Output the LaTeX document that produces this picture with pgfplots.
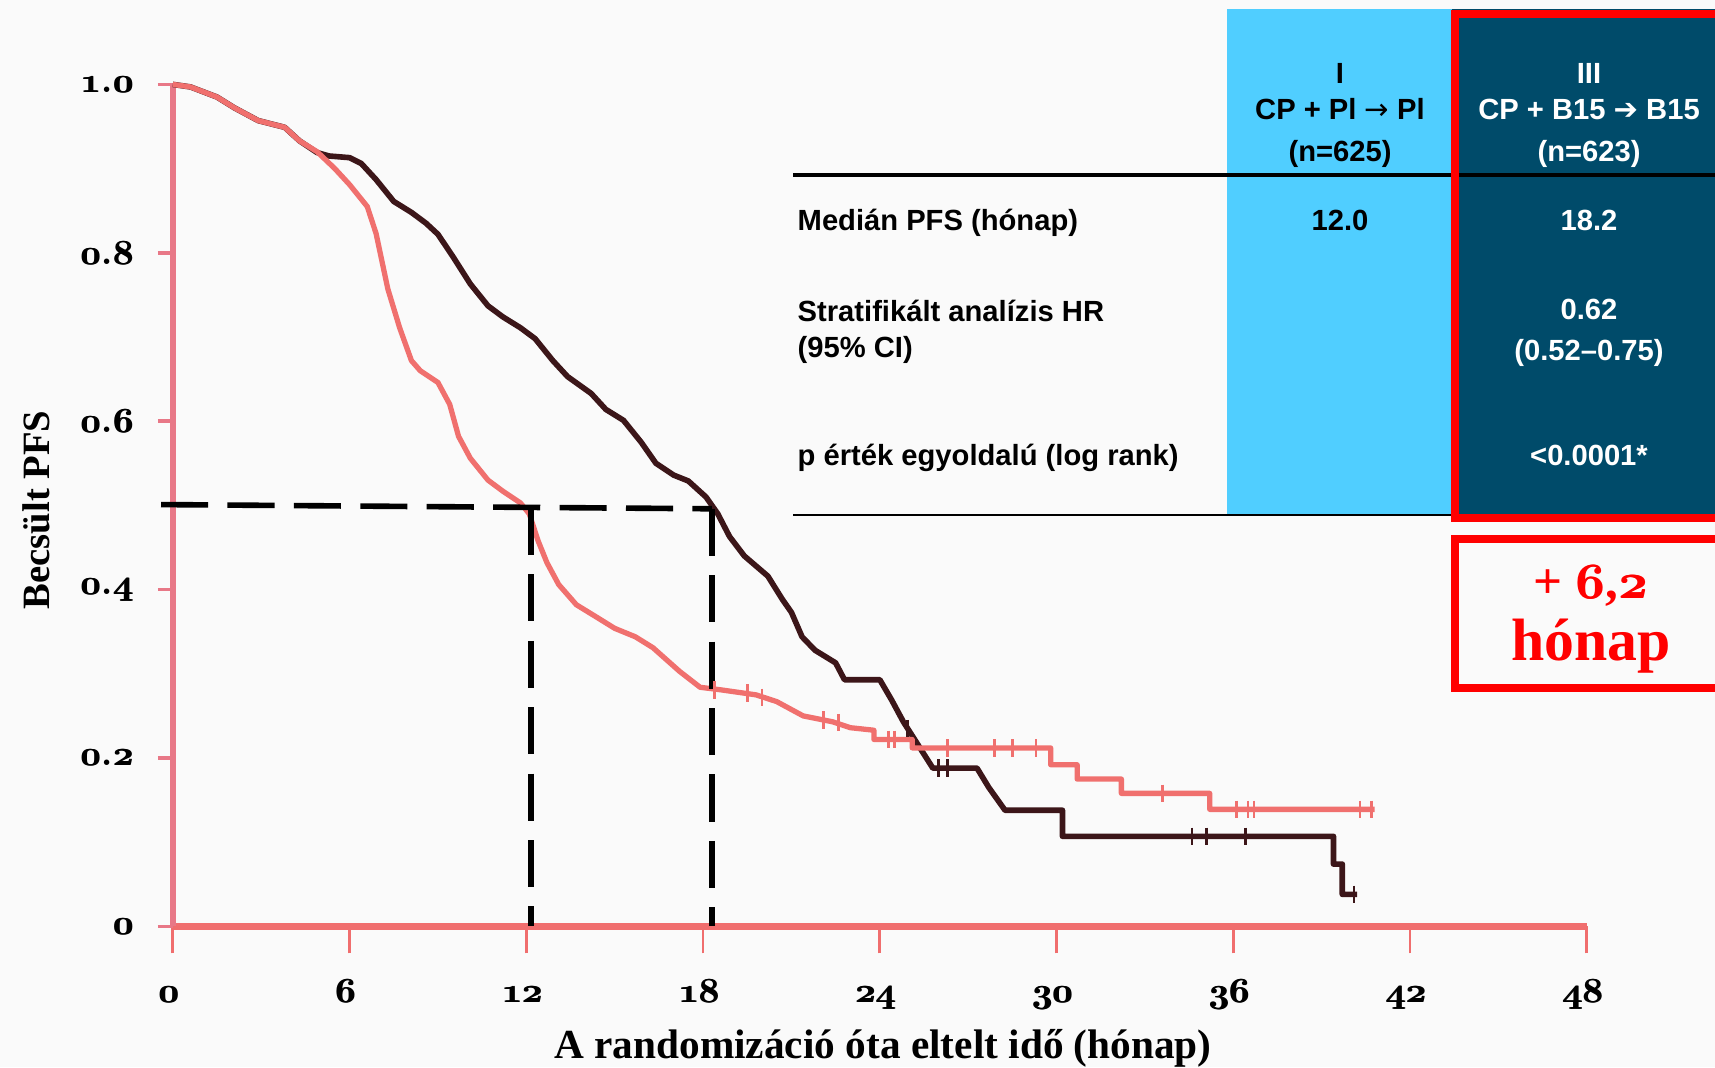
\documentclass[border=0pt]{standalone}
\usepackage{pgfplots}
\pgfplotsset{compat=1.18}
\usepackage{fontspec}
\newfontfamily\arial{Liberation Sans}
\newfontfamily\tnr{Liberation Serif}
\newfontfamily\djv{DejaVu Sans}
% old-style bold figures from the Computer Modern math italic, smeared a little to look heavier
\newcommand\osn[1]{{\usefont{OML}{cmm}{b}{it}\rlap{#1}\kern0.35pt#1}}

\definecolor{bgc}{RGB}{250,250,250}
\definecolor{ctrl}{RGB}{240,112,110}
\definecolor{expt}{RGB}{60,22,25}
\definecolor{yax}{RGB}{232,120,135}
\definecolor{xax}{RGB}{240,110,110}
\definecolor{lblue}{RGB}{80,206,255}
\definecolor{dblue}{RGB}{0,75,106}
\definecolor{hot}{RGB}{255,0,0}

\begin{document}
\begin{tikzpicture}
\clip (0,0) rectangle (17.15,10.67);
\fill[bgc] (0,0) rectangle (17.15,10.67);

% table background
\fill[lblue] (12.27,5.51) rectangle (14.52,10.58);
\fill[dblue] (14.52,5.51) rectangle (17.2,10.58);
\draw[black, line width=1.4pt] (7.93,8.92) -- (17.2,8.92);
\draw[black, line width=0.7pt] (7.93,5.52) -- (14.52,5.52);
\draw[hot, line width=2.3pt] (14.55,5.49) rectangle (17.4,10.53);
\draw[hot, line width=2.3pt] (14.55,3.79) rectangle (17.4,5.28);

\begin{axis}[
  at={(1.728cm,1.406cm)}, anchor=south west,
  scale only axis, width=14.14cm, height=8.42cm,
  xmin=0, xmax=48, ymin=0, ymax=1,
  axis x line*=bottom, axis y line*=left,
  clip=false,
  tick align=outside,
  xtick={0,6,12,18,24,30,36,42,48},
  ytick={0,0.2,0.4,0.6,0.8,1},
  xticklabels={\osn{0},\osn{6},\osn{12},\osn{18},\osn{24},\osn{30},\osn{36},\osn{42},\osn{48}},
  yticklabels={\osn{0},\osn{0}.\osn{2},\osn{0}.\osn{4},\osn{0}.\osn{6},\osn{0}.\osn{8},\osn{1}.\osn{0}},
  x axis line style={xax, line width=2.2pt},
  y axis line style={yax, line width=1.6pt},
  xtick style={xax, line width=0.8pt, /pgfplots/major tick length=0.27cm},
  ytick style={yax, line width=1pt, /pgfplots/major tick length=0.15cm},
  xticklabel style={font=\bfseries\fontsize{10}{12}\selectfont, anchor=base, inner sep=0pt, yshift=-0.61cm, xshift=-0.04cm},
  yticklabel style={font=\bfseries\fontsize{10}{12}\selectfont, anchor=east, inner sep=0pt, xshift=-0.23cm},
]
% CP + B15 -> B15
\addplot[expt, line width=1.6pt, line join=round] coordinates {
  (0,1.0) (0.6,0.997) (1.5,0.985) (2.1,0.972) (2.9,0.957) (3.8,0.949)
  (4.3,0.933) (4.9,0.919) (5.3,0.915) (6.0,0.913) (6.4,0.906) (6.9,0.887)
  (7.5,0.861) (8.1,0.848) (8.6,0.835) (9.0,0.822) (9.5,0.796) (10.1,0.763)
  (10.7,0.737) (11.2,0.724) (11.8,0.711) (12.3,0.698) (12.9,0.672) (13.4,0.653)
  (14.2,0.633) (14.7,0.614) (15.3,0.601) (15.9,0.575) (16.4,0.55) (17.0,0.536)
  (17.5,0.529) (18.1,0.51) (18.5,0.49) (18.9,0.463) (19.4,0.44) (20.2,0.416)
  (20.7,0.388) (21.0,0.373) (21.36,0.344) (21.8,0.328) (22.5,0.313) (22.8,0.293)
  (24.0,0.293) (24.4,0.269) (24.8,0.243) (25.4,0.21) (25.8,0.188) (27.3,0.188)
  (27.7,0.165) (28.25,0.138) (30.2,0.138) (30.2,0.107) (39.4,0.107) (39.4,0.074)
  (39.7,0.074) (39.7,0.038) (40.2,0.038)
};
% CP + Pl -> Pl
\addplot[ctrl, line width=1.5pt, line join=round] coordinates {
  (0,1.0) (0.6,0.997) (1.5,0.985) (2.1,0.972) (2.9,0.957) (3.8,0.949)
  (4.3,0.933) (4.9,0.92) (5.5,0.90) (6.0,0.881) (6.6,0.855) (6.9,0.823)
  (7.3,0.757) (7.7,0.711) (8.1,0.672) (8.4,0.66) (9.0,0.646) (9.4,0.62)
  (9.7,0.582) (10.1,0.556) (10.7,0.53) (11.2,0.517) (11.8,0.503) (12.1,0.49)
  (12.4,0.458) (12.7,0.432) (13.1,0.406) (13.7,0.382) (14.4,0.367) (15.0,0.354)
  (15.7,0.344) (16.3,0.331) (17.2,0.303) (17.9,0.284) (18.6,0.281) (19.8,0.275)
  (20.5,0.267) (21.4,0.25) (22.4,0.243) (23.0,0.236) (23.8,0.233) (23.8,0.222)
  (25.1,0.222) (25.1,0.212) (29.8,0.212) (29.8,0.192) (30.7,0.192) (30.7,0.175)
  (32.2,0.175) (32.2,0.158) (35.2,0.158) (35.2,0.139) (40.8,0.139)
};
% censored observations
\addplot[ctrl, only marks, mark=|, mark size=2.5pt, mark options={line width=0.8pt}] coordinates {
  (18.4,0.281) (19.5,0.277) (20.0,0.272) (22.1,0.245) (22.6,0.242)
  (24.3,0.222) (24.5,0.222) (26.3,0.212) (27.9,0.212) (28.5,0.212) (29.3,0.212)
  (33.6,0.158) (36.1,0.139) (36.5,0.139) (36.7,0.139) (40.3,0.139) (40.7,0.139)
};
\addplot[expt, only marks, mark=|, mark size=2.5pt, mark options={line width=0.8pt}] coordinates {
  (24.95,0.235) (26.0,0.188) (26.3,0.188) (34.6,0.107) (35.1,0.107) (36.4,0.107) (40.1,0.038)
};
% medians
\draw[black, line width=1.6pt, dash pattern=on 13.4pt off 5.5pt] (axis cs:-0.4,0.501) -- (axis cs:18.3,0.496);
\draw[black, line width=1.6pt, dash pattern=on 13.4pt off 5.5pt] (axis cs:12.15,0.497) -- (axis cs:12.15,0);
\draw[black, line width=1.6pt, dash pattern=on 13.4pt off 5.5pt] (axis cs:18.3,0.496) -- (axis cs:18.3,0);
\end{axis}

% axis titles
\node[font=\tnr\bfseries\fontsize{11.75}{14}\selectfont, anchor=base] at (8.83,0.09) {A randomizáció óta eltelt idő (hónap)};
\node[font=\tnr\bfseries\fontsize{11}{13}\selectfont, anchor=base, rotate=90] at (0.49,5.57) {Becsült PFS};

% table text
\begin{scope}[font=\arial\bfseries\fontsize{8.3}{10}\selectfont, inner sep=0pt]
\node[anchor=mid] at (13.40,9.91) {I};
\node[anchor=mid] at (13.40,9.55) {CP + Pl {\djv\mdseries →} Pl};
\node[anchor=mid] at (13.40,9.13) {(n=625)};
\node[anchor=mid, white] at (15.89,9.91) {III};
\node[anchor=mid, white] at (15.89,9.55) {CP + B15 {\djv ➔} B15};
\node[anchor=mid, white] at (15.89,9.13) {(n=623)};
\node[anchor=mid west] at (7.97,8.44) {Medián PFS (hónap)};
\node[anchor=mid] at (13.40,8.44) {12.0};
\node[anchor=mid, white] at (15.89,8.44) {18.2};
\node[anchor=mid west] at (7.97,7.53) {Stratifikált analízis HR};
\node[anchor=mid west] at (7.97,7.17) {(95\% CI)};
\node[anchor=mid, white] at (15.89,7.55) {0.62};
\node[anchor=mid, white] at (15.89,7.14) {(0.52–0.75)};
\node[anchor=mid west] at (7.97,6.09) {p érték egyoldalú (log rank)};
\node[anchor=mid, white] at (15.89,6.09) {<0.0001*};
\end{scope}

% gain in median PFS
\node[hot, font=\tnr\bfseries\fontsize{14.5}{17}\selectfont, anchor=base] at (15.91,4.69) {+ \osn{6},\osn{2}};
\node[hot, font=\tnr\bfseries\fontsize{17}{20}\selectfont, anchor=base] at (15.91,4.07) {hónap};
\end{tikzpicture}
\end{document}
